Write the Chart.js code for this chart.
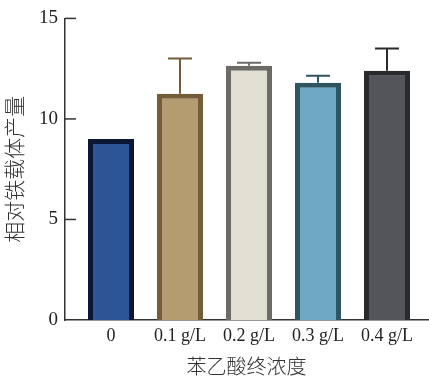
<!DOCTYPE html>
<html>
<head>
<meta charset="utf-8">
<script src="https://cdn.jsdelivr.net/npm/chart.js@4"></script>
<style>
  html, body { margin: 0; padding: 0; background: #fff; }
  #wrap { width: 429px; height: 381px; }
</style>
</head>
<body>
<div id="wrap"><canvas id="chart" width="429" height="381"></canvas></div>
<script>
// data
const categories = ["0", "0.1 g/L", "0.2 g/L", "0.3 g/L", "0.4 g/L"];
const yields = [9.0, 11.25, 12.65, 11.8, 12.4];
const errors = [0, 1.75, 0.15, 0.35, 1.1];
const yTicks = [0, 5, 10, 15];

const fillColors = ["#2b5597", "#b49c70", "#e1ded2", "#6ea8c4", "#53555a"];
const edgeColors = ["#0c1733", "#745c38", "#6c6b68", "#2f5561", "#282a2c"];

const serif = "'Liberation Serif', 'Times New Roman', serif";
const cjk = "'Liberation Serif', 'Noto Sans CJK SC', serif";

// upper error bars only
const errorBars = {
  id: "errorBars",
  afterDatasetsDraw(chart) {
    const ctx = chart.ctx;
    const meta = chart.getDatasetMeta(0);
    const yScale = chart.scales.y;
    ctx.save();
    ctx.lineWidth = 2;
    meta.data.forEach((bar, i) => {
      if (!errors[i]) return;
      const top = yScale.getPixelForValue(yields[i] + errors[i]);
      const base = yScale.getPixelForValue(yields[i]);
      ctx.strokeStyle = edgeColors[i];
      ctx.beginPath();
      ctx.moveTo(bar.x, base);
      ctx.lineTo(bar.x, top);
      ctx.moveTo(bar.x - 12, top);
      ctx.lineTo(bar.x + 12, top);
      ctx.stroke();
    });
    ctx.restore();
  }
};

// y ticks point inward
const innerTicks = {
  id: "innerTicks",
  afterDraw(chart) {
    const ctx = chart.ctx;
    const yScale = chart.scales.y;
    const left = chart.chartArea.left;
    ctx.save();
    ctx.strokeStyle = "#333";
    ctx.lineWidth = 1.5;
    yTicks.forEach((v) => {
      if (v === 0) return;
      const y = yScale.getPixelForValue(v);
      ctx.beginPath();
      ctx.moveTo(left, y);
      ctx.lineTo(left + 11, y);
      ctx.stroke();
    });
    ctx.restore();
  }
};

new Chart(document.getElementById("chart").getContext("2d"), {
  type: "bar",
  data: {
    datasets: [
      {
        data: yields.map((v, i) => ({ x: i, y: v })),
        backgroundColor: fillColors,
        borderColor: edgeColors,
        borderWidth: 5,
        borderSkipped: "start",
        barPercentage: 0.667,
        categoryPercentage: 1,
      },
    ],
  },
  options: {
    responsive: false,
    animation: false,
    layout: { padding: { top: 14, right: 1, left: 0, bottom: 0 } },
    plugins: {
      legend: { display: false },
      tooltip: { enabled: false },
    },
    scales: {
      x: {
        type: "linear",
        offset: false,
        min: -0.667,
        max: 4.594,
        grid: { display: false, drawTicks: false, offset: false },
        border: { color: "#333", width: 1.5 },
        afterBuildTicks: (scale) => {
          scale.ticks = categories.map((_, i) => ({ value: i }));
        },
        ticks: {
          callback: (v) => categories[v],
          color: "#222",
          font: { family: serif, size: 18 },
          padding: 5,
          maxRotation: 0,
          autoSkip: false,
        },
        title: {
          display: true,
          text: "苯乙酸终浓度",
          color: "#333",
          font: { family: cjk, size: 20, weight: "300" },
          padding: { top: 8, bottom: 0 },
        },
        afterFit: (scale) => { scale.height = 61; },
      },
      y: {
        min: 0,
        max: 15,
        afterBuildTicks: (scale) => {
          scale.ticks = yTicks.map((v) => ({ value: v }));
        },
        grid: { display: false, drawTicks: false },
        border: { color: "#333", width: 1.5 },
        ticks: {
          color: "#222",
          font: { family: serif, size: 19 },
          padding: 7,
        },
        title: {
          display: true,
          text: "相对铁载体产量",
          color: "#333",
          font: { family: cjk, size: 21, weight: "300" },
          padding: { top: 4, bottom: 2 },
        },
        afterFit: (scale) => { scale.width = 65; },
      },
    },
  },
  plugins: [errorBars, innerTicks],
});
</script>
</body>
</html>
